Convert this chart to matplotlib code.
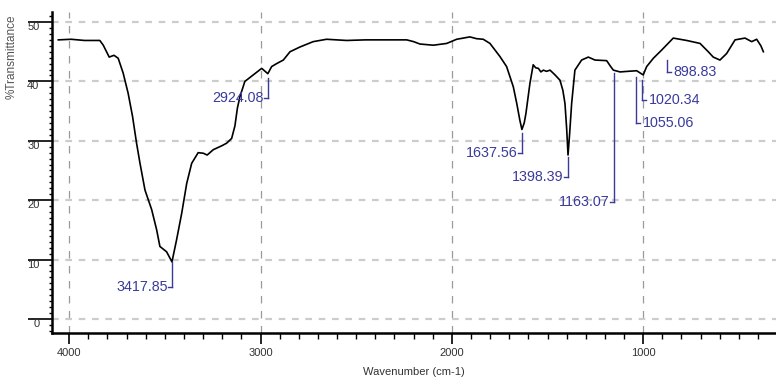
import numpy as np
import matplotlib
matplotlib.use('Agg')
import matplotlib.pyplot as plt
from matplotlib.ticker import MultipleLocator

# FTIR spectrum
wavenumber = [4057, 3990, 3920, 3840, 3822, 3791, 3766, 3744, 3718, 3692, 3669, 3648,
              3630, 3604, 3569, 3543, 3526, 3491, 3463, 3439, 3412, 3386, 3360, 3326,
              3299, 3279, 3247, 3200, 3177, 3151, 3134, 3121, 3108, 3082, 3038, 2994,
              2962, 2942, 2916, 2881, 2846, 2794, 2725, 2655, 2550, 2450, 2376, 2236,
              2200, 2167, 2097, 2027, 1975, 1906, 1871, 1836, 1801, 1749, 1714, 1679,
              1661, 1645, 1634, 1622, 1613, 1592, 1575, 1562, 1548, 1535, 1522, 1505,
              1487, 1461, 1435, 1420, 1409, 1400, 1393, 1385, 1374, 1357, 1322, 1287,
              1252, 1191, 1170, 1156, 1121, 1080, 1034, 1015, 1000, 982, 947, 903,
              843, 773, 703, 660, 634, 599, 564, 520, 468, 433, 407, 385, 372]
transmittance = [47.0, 47.1, 46.9, 46.9, 46.1, 44.1, 44.4, 43.9, 41.4, 38.0, 34.1, 29.6,
                 26.2, 21.7, 18.4, 15.0, 12.2, 11.3, 9.6, 13.3, 17.8, 22.8, 26.2, 28.0,
                 27.9, 27.6, 28.5, 29.2, 29.6, 30.4, 32.5, 35.5, 37.4, 40.0, 41.1, 42.2,
                 41.3, 42.5, 43.0, 43.6, 45.0, 45.8, 46.7, 47.1, 46.9, 47.0, 47.0, 47.0,
                 46.7, 46.3, 46.1, 46.4, 47.1, 47.5, 47.2, 47.1, 46.4, 44.2, 42.5, 39.1,
                 36.3, 33.5, 31.9, 33.0, 34.6, 39.7, 42.8, 42.3, 42.2, 41.6, 41.9, 41.7,
                 41.9, 41.1, 40.2, 38.5, 36.3, 32.0, 27.6, 31.0, 36.3, 41.9, 43.6, 44.1,
                 43.6, 43.5, 42.5, 41.9, 41.6, 41.7, 41.8, 41.4, 41.1, 42.5, 43.9, 45.3,
                 47.3, 46.9, 46.4, 45.0, 44.1, 43.6, 44.7, 47.0, 47.3, 46.7, 47.1, 46.0, 45.0]

# peak labels: text, where the leader sits on the curve, where it ends
peak_labels = ['3417.85', '2924.08', '1637.56', '1398.39', '1163.07', '1055.06', '1020.34', '898.83']
peak_x = [3463, 2962, 1634, 1393, 1152, 1038, 1007, 877]
peak_top = [9.5, 40.6, 31.3, 27.3, 41.5, 40.7, 40.2, 43.6]
peak_end = [5.4, 37.2, 27.9, 23.9, 19.7, 33.0, 36.9, 41.6]
peak_side = ['L', 'L', 'L', 'L', 'L', 'R', 'R', 'R']

font = ['Liberation Sans', 'DejaVu Sans']
navy = '#3a3a9c'

fig = plt.figure(figsize=(7.76, 3.86), dpi=100)
ax = fig.add_axes([0.067, 0.137, 0.933, 0.832])

ax.plot(wavenumber, transmittance, color='black', lw=1.2, zorder=3)

for lab, x, top, end, side in zip(peak_labels, peak_x, peak_top, peak_end, peak_side):
    ax.plot([x, x], [top, end], color=navy, lw=1, zorder=4)
    if side == 'L':
        ax.plot([x, x + 22], [end, end], color=navy, lw=1, zorder=4)
        ax.annotate(lab, (x + 22, end), xytext=(0, 0), textcoords='offset points',
                    ha='right', va='center', fontsize=10.3, color=navy, family=font)
    else:
        ax.plot([x, x - 22], [end, end], color=navy, lw=1, zorder=4)
        ax.annotate(lab, (x - 22, end), xytext=(2, 0), textcoords='offset points',
                    ha='left', va='center', fontsize=10.3, color=navy, family=font)

ax.set_xlim(4090, 306)
ax.set_ylim(-2.4, 51.7)

ax.spines['top'].set_visible(False)
ax.spines['right'].set_visible(False)
ax.spines['left'].set_linewidth(1.8)
ax.spines['bottom'].set_linewidth(1.8)

ax.xaxis.set_major_locator(MultipleLocator(1000))
ax.xaxis.set_minor_locator(MultipleLocator(100))
ax.yaxis.set_major_locator(MultipleLocator(10))
ax.yaxis.set_minor_locator(MultipleLocator(1))

ax.tick_params(axis='x', which='major', length=8, width=1.2, pad=3, labelsize=8, labelcolor='#333333')
ax.tick_params(axis='x', which='minor', length=4, width=1)
ax.tick_params(axis='y', which='major', length=17, width=1.2, pad=-8, labelsize=8, labelcolor='#333333')
ax.tick_params(axis='y', which='minor', length=2.5, width=1)
for t in ax.get_xticklabels() + ax.get_yticklabels():
    t.set_family(font)
for t in ax.get_yticklabels():
    t.set_va('top')

ax.grid(axis='y', which='major', linestyle=(0, (3, 3)), color='#cccccc', lw=1.6)
ax.grid(axis='x', which='major', linestyle=(0, (6, 6)), color='#9a9a9a', lw=0.9)

ax.set_xlabel('Wavenumber (cm-1)', fontsize=8, family=font, color='#333333', labelpad=6)
ax.set_ylabel('%Transmittance', fontsize=8.5, family=font, color='#555555')
ax.yaxis.set_label_coords(-0.047, 0.86)

plt.savefig('out.png', dpi=100)
plt.close()
